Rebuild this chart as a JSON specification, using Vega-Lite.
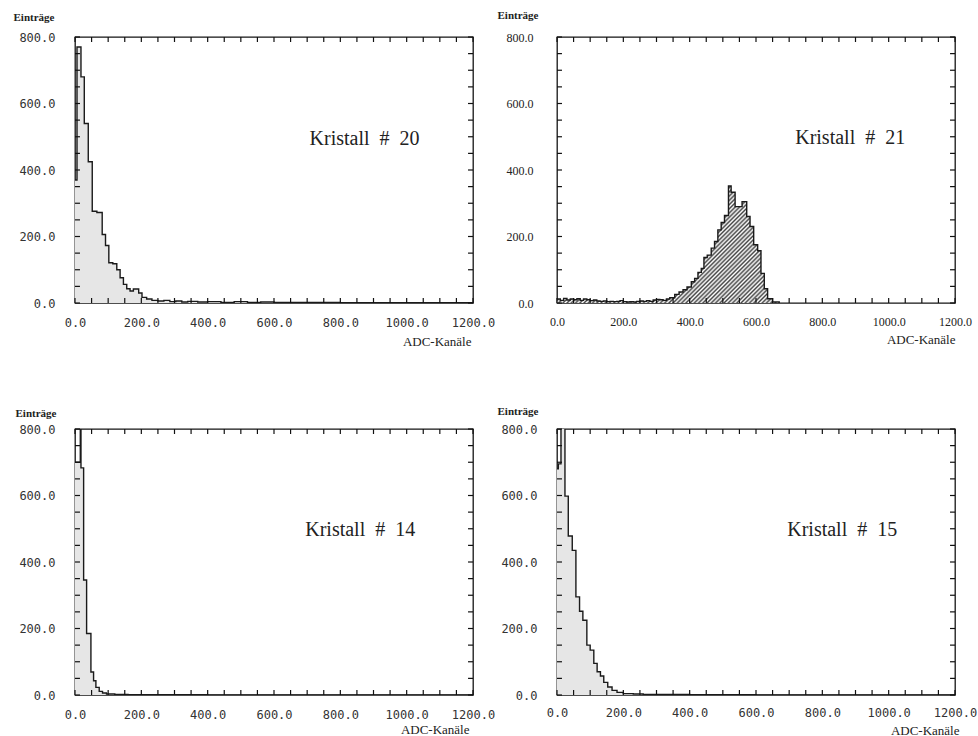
{
  "$schema": "https://vega.github.io/schema/vega-lite/v6.json",
  "autosize": {"type": "pad"},
  "padding": {"left": 12, "top": 8, "right": 0, "bottom": 0},
  "background": "white",
  "config": {
    "view": {"stroke": "#151515", "strokeWidth": 1.3},
    "axis": {"grid": false, "domain": false, "ticks": false, "labelColor": "#333", "titleColor": "#222", "labelOverlap": false, "labelFlush": false}
  },
  "datasets": {
    "tx": [{"v": 0}, {"v": 50}, {"v": 100}, {"v": 150}, {"v": 200}, {"v": 250}, {"v": 300}, {"v": 350}, {"v": 400}, {"v": 450}, {"v": 500}, {"v": 550}, {"v": 600}, {"v": 650}, {"v": 700}, {"v": 750}, {"v": 800}, {"v": 850}, {"v": 900}, {"v": 950}, {"v": 1000}, {"v": 1050}, {"v": 1100}, {"v": 1150}, {"v": 1200}],
    "ty": [{"v": 0}, {"v": 50}, {"v": 100}, {"v": 150}, {"v": 200}, {"v": 250}, {"v": 300}, {"v": 350}, {"v": 400}, {"v": 450}, {"v": 500}, {"v": 550}, {"v": 600}, {"v": 650}, {"v": 700}, {"v": 750}, {"v": 800}],
    "p20": [
      {"x": 0, "n": 370}, {"x": 6, "n": 770}, {"x": 18, "n": 680}, {"x": 28, "n": 540}, {"x": 40, "n": 425},
      {"x": 52, "n": 276}, {"x": 66, "n": 272}, {"x": 82, "n": 206}, {"x": 92, "n": 173}, {"x": 102, "n": 121},
      {"x": 114, "n": 118}, {"x": 126, "n": 100}, {"x": 136, "n": 76}, {"x": 146, "n": 56}, {"x": 156, "n": 43},
      {"x": 166, "n": 36}, {"x": 176, "n": 42}, {"x": 192, "n": 30}, {"x": 202, "n": 17}, {"x": 216, "n": 12},
      {"x": 232, "n": 8}, {"x": 250, "n": 6}, {"x": 268, "n": 8}, {"x": 286, "n": 4}, {"x": 304, "n": 6},
      {"x": 322, "n": 3}, {"x": 340, "n": 5}, {"x": 370, "n": 3}, {"x": 400, "n": 4}, {"x": 440, "n": 2},
      {"x": 480, "n": 4}, {"x": 520, "n": 2}, {"x": 560, "n": 3}, {"x": 600, "n": 2}, {"x": 700, "n": 2},
      {"x": 800, "n": 1}, {"x": 900, "n": 1}, {"x": 1000, "n": 1}, {"x": 1100, "n": 1}, {"x": 1200, "n": 0}
    ],
    "p21": [
      {"x": 0, "n": 12}, {"x": 10, "n": 8}, {"x": 20, "n": 14}, {"x": 30, "n": 9}, {"x": 40, "n": 12},
      {"x": 50, "n": 10}, {"x": 60, "n": 13}, {"x": 70, "n": 8}, {"x": 80, "n": 12}, {"x": 90, "n": 10},
      {"x": 100, "n": 7}, {"x": 110, "n": 9}, {"x": 120, "n": 6}, {"x": 130, "n": 5}, {"x": 140, "n": 6},
      {"x": 150, "n": 4}, {"x": 160, "n": 5}, {"x": 170, "n": 4}, {"x": 180, "n": 5}, {"x": 190, "n": 7},
      {"x": 200, "n": 4}, {"x": 210, "n": 3}, {"x": 220, "n": 4}, {"x": 230, "n": 3}, {"x": 240, "n": 5},
      {"x": 250, "n": 6}, {"x": 260, "n": 5}, {"x": 270, "n": 7}, {"x": 280, "n": 5}, {"x": 290, "n": 9},
      {"x": 300, "n": 11}, {"x": 310, "n": 10}, {"x": 320, "n": 8}, {"x": 330, "n": 12}, {"x": 340, "n": 16},
      {"x": 355, "n": 26}, {"x": 368, "n": 33}, {"x": 380, "n": 40}, {"x": 392, "n": 48}, {"x": 405, "n": 64},
      {"x": 415, "n": 74}, {"x": 425, "n": 92}, {"x": 435, "n": 104}, {"x": 443, "n": 137}, {"x": 453, "n": 144},
      {"x": 465, "n": 165}, {"x": 475, "n": 185}, {"x": 485, "n": 220}, {"x": 495, "n": 242}, {"x": 505, "n": 263},
      {"x": 517, "n": 352}, {"x": 525, "n": 333}, {"x": 537, "n": 290}, {"x": 558, "n": 305}, {"x": 572, "n": 260},
      {"x": 582, "n": 230}, {"x": 593, "n": 175}, {"x": 605, "n": 157}, {"x": 615, "n": 89}, {"x": 625, "n": 43},
      {"x": 635, "n": 13}, {"x": 650, "n": 3}, {"x": 670, "n": 0}
    ],
    "p14": [
      {"x": 0, "n": 700}, {"x": 16, "n": 1000}, {"x": 18, "n": 683}, {"x": 26, "n": 346}, {"x": 35, "n": 185},
      {"x": 48, "n": 69}, {"x": 56, "n": 43}, {"x": 63, "n": 23}, {"x": 73, "n": 11}, {"x": 83, "n": 6},
      {"x": 95, "n": 3}, {"x": 120, "n": 2}, {"x": 160, "n": 1}, {"x": 250, "n": 1}, {"x": 400, "n": 0},
      {"x": 1200, "n": 0}
    ],
    "p15": [
      {"x": 0, "n": 680}, {"x": 4, "n": 695}, {"x": 12, "n": 1000}, {"x": 24, "n": 598}, {"x": 34, "n": 478},
      {"x": 46, "n": 435}, {"x": 57, "n": 295}, {"x": 68, "n": 252}, {"x": 78, "n": 225}, {"x": 90, "n": 150},
      {"x": 100, "n": 135}, {"x": 111, "n": 95}, {"x": 121, "n": 70}, {"x": 131, "n": 57}, {"x": 141, "n": 38},
      {"x": 153, "n": 24}, {"x": 166, "n": 14}, {"x": 181, "n": 8}, {"x": 200, "n": 4}, {"x": 230, "n": 3},
      {"x": 260, "n": 2}, {"x": 300, "n": 2}, {"x": 400, "n": 1}, {"x": 500, "n": 1}, {"x": 600, "n": 0},
      {"x": 1200, "n": 0}
    ]
  },
  "columns": 2,
  "spacing": {"column": 84, "row": 126},
  "bounds": "flush",
  "concat": [
    {
      "width": 398, "height": 266,
      "data": {"name": "p20"},
      "layer": [
        {
          "mark": {"type": "area", "interpolate": "step-after", "fill": "#e6e6e6", "clip": true},
          "encoding": {
            "x": {"field": "x", "type": "quantitative", "scale": {"domain": [0, 1200], "nice": false, "zero": false},
              "axis": {"orient": "bottom", "values": [0,200,400,600,800,1000,1200], "format": ".1f",
                "labelFont": "DejaVu Sans Mono", "labelFontSize": 12, "labelPadding": 14,
                "title": "ADC-Kanäle", "titleFont": "Liberation Serif", "titleFontSize": 13, "titleFontWeight": "normal",
                "titleAnchor": "end", "titleAlign": "right", "titleBaseline": "middle", "titleX": 396, "titleY": 38}},
            "y": {"field": "n", "type": "quantitative", "scale": {"domain": [0, 800], "nice": false},
              "axis": {"orient": "left", "values": [0,200,400,600,800], "format": ".1f",
                "labelFont": "DejaVu Sans Mono", "labelFontSize": 12, "labelPadding": 20,
                "title": "Einträge", "titleFont": "Liberation Serif", "titleFontSize": 11, "titleFontWeight": "bold",
                "titleAngle": 0, "titleAlign": "left", "titleBaseline": "middle", "titleX": -62, "titleY": -20}}
          }
        },
        {
          "mark": {"type": "line", "interpolate": "step-after", "stroke": "#1a1a1a", "strokeWidth": 1.4, "clip": true},
          "encoding": {"x": {"field": "x", "type": "quantitative"}, "y": {"field": "n", "type": "quantitative"}}
        },
        {"data": {"name": "tx"}, "mark": {"type": "rule", "stroke": "#111", "strokeWidth": 1.2},
          "encoding": {"x": {"field": "v", "type": "quantitative"}, "y": {"datum": 0, "type": "quantitative"}, "y2": {"datum": 15}}},
        {"data": {"name": "tx"}, "mark": {"type": "rule", "stroke": "#111", "strokeWidth": 1.2},
          "encoding": {"x": {"field": "v", "type": "quantitative"}, "y": {"datum": 800, "type": "quantitative"}, "y2": {"datum": 785}}},
        {"data": {"name": "ty"}, "mark": {"type": "rule", "stroke": "#111", "strokeWidth": 1.2},
          "encoding": {"y": {"field": "v", "type": "quantitative"}, "x": {"datum": 0, "type": "quantitative"}, "x2": {"datum": 15}}},
        {"data": {"name": "ty"}, "mark": {"type": "rule", "stroke": "#111", "strokeWidth": 1.2},
          "encoding": {"y": {"field": "v", "type": "quantitative"}, "x": {"datum": 1200, "type": "quantitative"}, "x2": {"datum": 1185}}},
        {
          "data": {"values": [{}]},
          "mark": {"type": "text", "text": "Kristall\u00a0\u00a0#\u00a0\u00a020", "font": "Liberation Serif", "fontSize": 20, "fill": "#222", "align": "center", "baseline": "middle"},
          "encoding": {"x": {"datum": 873, "type": "quantitative"}, "y": {"datum": 492, "type": "quantitative"}}
        }
      ]
    },
    {
      "width": 398, "height": 266,
      "data": {"name": "p21"},
      "layer": [
        {
          "mark": {"type": "area", "interpolate": "step-after", "clip": true,
            "fill": {"gradient": "linear", "x1": 0, "y1": 0, "x2": 1.195, "y2": 0.63, "stops": [
              {"offset": 0, "color": "#444"}, {"offset": 0.00625, "color": "#fff"}, {"offset": 0.0125, "color": "#444"}, {"offset": 0.01875, "color": "#fff"},
              {"offset": 0.025, "color": "#444"}, {"offset": 0.03125, "color": "#fff"}, {"offset": 0.0375, "color": "#444"}, {"offset": 0.04375, "color": "#fff"},
              {"offset": 0.05, "color": "#444"}, {"offset": 0.05625, "color": "#fff"}, {"offset": 0.0625, "color": "#444"}, {"offset": 0.06875, "color": "#fff"},
              {"offset": 0.075, "color": "#444"}, {"offset": 0.08125, "color": "#fff"}, {"offset": 0.0875, "color": "#444"}, {"offset": 0.09375, "color": "#fff"},
              {"offset": 0.1, "color": "#444"}, {"offset": 0.10625, "color": "#fff"}, {"offset": 0.1125, "color": "#444"}, {"offset": 0.11875, "color": "#fff"},
              {"offset": 0.125, "color": "#444"}, {"offset": 0.13125, "color": "#fff"}, {"offset": 0.1375, "color": "#444"}, {"offset": 0.14375, "color": "#fff"},
              {"offset": 0.15, "color": "#444"}, {"offset": 0.15625, "color": "#fff"}, {"offset": 0.1625, "color": "#444"}, {"offset": 0.16875, "color": "#fff"},
              {"offset": 0.175, "color": "#444"}, {"offset": 0.18125, "color": "#fff"}, {"offset": 0.1875, "color": "#444"}, {"offset": 0.19375, "color": "#fff"},
              {"offset": 0.2, "color": "#444"}, {"offset": 0.20625, "color": "#fff"}, {"offset": 0.2125, "color": "#444"}, {"offset": 0.21875, "color": "#fff"},
              {"offset": 0.225, "color": "#444"}, {"offset": 0.23125, "color": "#fff"}, {"offset": 0.2375, "color": "#444"}, {"offset": 0.24375, "color": "#fff"},
              {"offset": 0.25, "color": "#444"}, {"offset": 0.25625, "color": "#fff"}, {"offset": 0.2625, "color": "#444"}, {"offset": 0.26875, "color": "#fff"},
              {"offset": 0.275, "color": "#444"}, {"offset": 0.28125, "color": "#fff"}, {"offset": 0.2875, "color": "#444"}, {"offset": 0.29375, "color": "#fff"},
              {"offset": 0.3, "color": "#444"}, {"offset": 0.30625, "color": "#fff"}, {"offset": 0.3125, "color": "#444"}, {"offset": 0.31875, "color": "#fff"},
              {"offset": 0.325, "color": "#444"}, {"offset": 0.33125, "color": "#fff"}, {"offset": 0.3375, "color": "#444"}, {"offset": 0.34375, "color": "#fff"},
              {"offset": 0.35, "color": "#444"}, {"offset": 0.35625, "color": "#fff"}, {"offset": 0.3625, "color": "#444"}, {"offset": 0.36875, "color": "#fff"},
              {"offset": 0.375, "color": "#444"}, {"offset": 0.38125, "color": "#fff"}, {"offset": 0.3875, "color": "#444"}, {"offset": 0.39375, "color": "#fff"},
              {"offset": 0.4, "color": "#444"}, {"offset": 0.40625, "color": "#fff"}, {"offset": 0.4125, "color": "#444"}, {"offset": 0.41875, "color": "#fff"},
              {"offset": 0.425, "color": "#444"}, {"offset": 0.43125, "color": "#fff"}, {"offset": 0.4375, "color": "#444"}, {"offset": 0.44375, "color": "#fff"},
              {"offset": 0.45, "color": "#444"}, {"offset": 0.45625, "color": "#fff"}, {"offset": 0.4625, "color": "#444"}, {"offset": 0.46875, "color": "#fff"},
              {"offset": 0.475, "color": "#444"}, {"offset": 0.48125, "color": "#fff"}, {"offset": 0.4875, "color": "#444"}, {"offset": 0.49375, "color": "#fff"},
              {"offset": 0.5, "color": "#444"}, {"offset": 0.50625, "color": "#fff"}, {"offset": 0.5125, "color": "#444"}, {"offset": 0.51875, "color": "#fff"},
              {"offset": 0.525, "color": "#444"}, {"offset": 0.53125, "color": "#fff"}, {"offset": 0.5375, "color": "#444"}, {"offset": 0.54375, "color": "#fff"},
              {"offset": 0.55, "color": "#444"}, {"offset": 0.55625, "color": "#fff"}, {"offset": 0.5625, "color": "#444"}, {"offset": 0.56875, "color": "#fff"},
              {"offset": 0.575, "color": "#444"}, {"offset": 0.58125, "color": "#fff"}, {"offset": 0.5875, "color": "#444"}, {"offset": 0.59375, "color": "#fff"},
              {"offset": 0.6, "color": "#444"}, {"offset": 0.60625, "color": "#fff"}, {"offset": 0.6125, "color": "#444"}, {"offset": 0.61875, "color": "#fff"},
              {"offset": 0.625, "color": "#444"}, {"offset": 0.63125, "color": "#fff"}, {"offset": 0.6375, "color": "#444"}, {"offset": 0.64375, "color": "#fff"},
              {"offset": 0.65, "color": "#444"}, {"offset": 0.65625, "color": "#fff"}, {"offset": 0.6625, "color": "#444"}, {"offset": 0.66875, "color": "#fff"},
              {"offset": 0.675, "color": "#444"}, {"offset": 0.68125, "color": "#fff"}, {"offset": 0.6875, "color": "#444"}, {"offset": 0.69375, "color": "#fff"},
              {"offset": 0.7, "color": "#444"}, {"offset": 0.70625, "color": "#fff"}, {"offset": 0.7125, "color": "#444"}, {"offset": 0.71875, "color": "#fff"},
              {"offset": 0.725, "color": "#444"}, {"offset": 0.73125, "color": "#fff"}, {"offset": 0.7375, "color": "#444"}, {"offset": 0.74375, "color": "#fff"},
              {"offset": 0.75, "color": "#444"}, {"offset": 0.75625, "color": "#fff"}, {"offset": 0.7625, "color": "#444"}, {"offset": 0.76875, "color": "#fff"},
              {"offset": 0.775, "color": "#444"}, {"offset": 0.78125, "color": "#fff"}, {"offset": 0.7875, "color": "#444"}, {"offset": 0.79375, "color": "#fff"},
              {"offset": 0.8, "color": "#444"}, {"offset": 0.80625, "color": "#fff"}, {"offset": 0.8125, "color": "#444"}, {"offset": 0.81875, "color": "#fff"},
              {"offset": 0.825, "color": "#444"}, {"offset": 0.83125, "color": "#fff"}, {"offset": 0.8375, "color": "#444"}, {"offset": 0.84375, "color": "#fff"},
              {"offset": 0.85, "color": "#444"}, {"offset": 0.85625, "color": "#fff"}, {"offset": 0.8625, "color": "#444"}, {"offset": 0.86875, "color": "#fff"},
              {"offset": 0.875, "color": "#444"}, {"offset": 0.88125, "color": "#fff"}, {"offset": 0.8875, "color": "#444"}, {"offset": 0.89375, "color": "#fff"},
              {"offset": 0.9, "color": "#444"}, {"offset": 0.90625, "color": "#fff"}, {"offset": 0.9125, "color": "#444"}, {"offset": 0.91875, "color": "#fff"},
              {"offset": 0.925, "color": "#444"}, {"offset": 0.93125, "color": "#fff"}, {"offset": 0.9375, "color": "#444"}, {"offset": 0.94375, "color": "#fff"},
              {"offset": 0.95, "color": "#444"}, {"offset": 0.95625, "color": "#fff"}, {"offset": 0.9625, "color": "#444"}, {"offset": 0.96875, "color": "#fff"},
              {"offset": 0.975, "color": "#444"}, {"offset": 0.98125, "color": "#fff"}, {"offset": 0.9875, "color": "#444"}, {"offset": 0.99375, "color": "#fff"},
              {"offset": 1, "color": "#444"}
            ]}},
          "encoding": {
            "x": {"field": "x", "type": "quantitative", "scale": {"domain": [0, 1200], "nice": false, "zero": false},
              "axis": {"orient": "bottom", "values": [0,200,400,600,800,1000,1200], "format": ".1f",
                "labelFont": "Liberation Serif", "labelFontSize": 12, "labelColor": "#222", "labelPadding": 13,
                "title": "ADC-Kanäle", "titleFont": "Liberation Serif", "titleFontSize": 13, "titleFontWeight": "normal",
                "titleAnchor": "end", "titleAlign": "right", "titleBaseline": "middle", "titleX": 398, "titleY": 36}},
            "y": {"field": "n", "type": "quantitative", "scale": {"domain": [0, 800], "nice": false},
              "axis": {"orient": "left", "values": [0,200,400,600,800], "format": ".1f",
                "labelFont": "Liberation Serif", "labelFontSize": 12, "labelColor": "#222", "labelPadding": 24,
                "title": "Einträge", "titleFont": "Liberation Serif", "titleFontSize": 11, "titleFontWeight": "bold",
                "titleAngle": 0, "titleAlign": "left", "titleBaseline": "middle", "titleX": -60, "titleY": -22}}
          }
        },
        {
          "mark": {"type": "line", "interpolate": "step-after", "stroke": "#1a1a1a", "strokeWidth": 1.4, "clip": true},
          "encoding": {"x": {"field": "x", "type": "quantitative"}, "y": {"field": "n", "type": "quantitative"}}
        },
        {"data": {"name": "tx"}, "mark": {"type": "rule", "stroke": "#111", "strokeWidth": 1.2},
          "encoding": {"x": {"field": "v", "type": "quantitative"}, "y": {"datum": 0, "type": "quantitative"}, "y2": {"datum": 15}}},
        {"data": {"name": "tx"}, "mark": {"type": "rule", "stroke": "#111", "strokeWidth": 1.2},
          "encoding": {"x": {"field": "v", "type": "quantitative"}, "y": {"datum": 800, "type": "quantitative"}, "y2": {"datum": 785}}},
        {"data": {"name": "ty"}, "mark": {"type": "rule", "stroke": "#111", "strokeWidth": 1.2},
          "encoding": {"y": {"field": "v", "type": "quantitative"}, "x": {"datum": 0, "type": "quantitative"}, "x2": {"datum": 15}}},
        {"data": {"name": "ty"}, "mark": {"type": "rule", "stroke": "#111", "strokeWidth": 1.2},
          "encoding": {"y": {"field": "v", "type": "quantitative"}, "x": {"datum": 1200, "type": "quantitative"}, "x2": {"datum": 1185}}},
        {
          "data": {"values": [{}]},
          "mark": {"type": "text", "text": "Kristall\u00a0\u00a0#\u00a0\u00a021", "font": "Liberation Serif", "fontSize": 20, "fill": "#222", "align": "center", "baseline": "middle"},
          "encoding": {"x": {"datum": 884, "type": "quantitative"}, "y": {"datum": 495, "type": "quantitative"}}
        }
      ]
    },
    {
      "width": 398, "height": 266,
      "data": {"name": "p14"},
      "layer": [
        {
          "mark": {"type": "area", "interpolate": "step-after", "fill": "#e6e6e6", "clip": true},
          "encoding": {
            "x": {"field": "x", "type": "quantitative", "scale": {"domain": [0, 1200], "nice": false, "zero": false},
              "axis": {"orient": "bottom", "values": [0,200,400,600,800,1000,1200], "format": ".1f",
                "labelFont": "DejaVu Sans Mono", "labelFontSize": 12, "labelPadding": 14,
                "title": "ADC-Kanäle", "titleFont": "Liberation Serif", "titleFontSize": 13, "titleFontWeight": "normal",
                "titleAnchor": "end", "titleAlign": "right", "titleBaseline": "middle", "titleX": 394, "titleY": 34}},
            "y": {"field": "n", "type": "quantitative", "scale": {"domain": [0, 800], "nice": false},
              "axis": {"orient": "left", "values": [0,200,400,600,800], "format": ".1f",
                "labelFont": "DejaVu Sans Mono", "labelFontSize": 12, "labelPadding": 20,
                "title": "Einträge", "titleFont": "Liberation Serif", "titleFontSize": 11, "titleFontWeight": "bold",
                "titleAngle": 0, "titleAlign": "left", "titleBaseline": "middle", "titleX": -60, "titleY": -16}}
          }
        },
        {
          "mark": {"type": "line", "interpolate": "step-after", "stroke": "#1a1a1a", "strokeWidth": 1.4, "clip": true},
          "encoding": {"x": {"field": "x", "type": "quantitative"}, "y": {"field": "n", "type": "quantitative"}}
        },
        {"data": {"name": "tx"}, "mark": {"type": "rule", "stroke": "#111", "strokeWidth": 1.2},
          "encoding": {"x": {"field": "v", "type": "quantitative"}, "y": {"datum": 0, "type": "quantitative"}, "y2": {"datum": 15}}},
        {"data": {"name": "tx"}, "mark": {"type": "rule", "stroke": "#111", "strokeWidth": 1.2},
          "encoding": {"x": {"field": "v", "type": "quantitative"}, "y": {"datum": 800, "type": "quantitative"}, "y2": {"datum": 785}}},
        {"data": {"name": "ty"}, "mark": {"type": "rule", "stroke": "#111", "strokeWidth": 1.2},
          "encoding": {"y": {"field": "v", "type": "quantitative"}, "x": {"datum": 0, "type": "quantitative"}, "x2": {"datum": 15}}},
        {"data": {"name": "ty"}, "mark": {"type": "rule", "stroke": "#111", "strokeWidth": 1.2},
          "encoding": {"y": {"field": "v", "type": "quantitative"}, "x": {"datum": 1200, "type": "quantitative"}, "x2": {"datum": 1185}}},
        {
          "data": {"values": [{}]},
          "mark": {"type": "text", "text": "Kristall\u00a0\u00a0#\u00a0\u00a014", "font": "Liberation Serif", "fontSize": 20, "fill": "#222", "align": "center", "baseline": "middle"},
          "encoding": {"x": {"datum": 860, "type": "quantitative"}, "y": {"datum": 497, "type": "quantitative"}}
        }
      ]
    },
    {
      "width": 398, "height": 266,
      "data": {"name": "p15"},
      "layer": [
        {
          "mark": {"type": "area", "interpolate": "step-after", "fill": "#e6e6e6", "clip": true},
          "encoding": {
            "x": {"field": "x", "type": "quantitative", "scale": {"domain": [0, 1200], "nice": false, "zero": false},
              "axis": {"orient": "bottom", "values": [0,200,400,600,800,1000,1200], "format": ".1f",
                "labelFont": "DejaVu Sans Mono", "labelFontSize": 12, "labelPadding": 12,
                "title": "ADC-Kanäle", "titleFont": "Liberation Serif", "titleFontSize": 13, "titleFontWeight": "normal",
                "titleAnchor": "end", "titleAlign": "right", "titleBaseline": "middle", "titleX": 402, "titleY": 35}},
            "y": {"field": "n", "type": "quantitative", "scale": {"domain": [0, 800], "nice": false},
              "axis": {"orient": "left", "values": [0,200,400,600,800], "format": ".1f",
                "labelFont": "DejaVu Sans Mono", "labelFontSize": 12, "labelPadding": 20,
                "title": "Einträge", "titleFont": "Liberation Serif", "titleFontSize": 11, "titleFontWeight": "bold",
                "titleAngle": 0, "titleAlign": "left", "titleBaseline": "middle", "titleX": -60, "titleY": -18}}
          }
        },
        {
          "mark": {"type": "line", "interpolate": "step-after", "stroke": "#1a1a1a", "strokeWidth": 1.4, "clip": true},
          "encoding": {"x": {"field": "x", "type": "quantitative"}, "y": {"field": "n", "type": "quantitative"}}
        },
        {"data": {"name": "tx"}, "mark": {"type": "rule", "stroke": "#111", "strokeWidth": 1.2},
          "encoding": {"x": {"field": "v", "type": "quantitative"}, "y": {"datum": 0, "type": "quantitative"}, "y2": {"datum": 15}}},
        {"data": {"name": "tx"}, "mark": {"type": "rule", "stroke": "#111", "strokeWidth": 1.2},
          "encoding": {"x": {"field": "v", "type": "quantitative"}, "y": {"datum": 800, "type": "quantitative"}, "y2": {"datum": 785}}},
        {"data": {"name": "ty"}, "mark": {"type": "rule", "stroke": "#111", "strokeWidth": 1.2},
          "encoding": {"y": {"field": "v", "type": "quantitative"}, "x": {"datum": 0, "type": "quantitative"}, "x2": {"datum": 15}}},
        {"data": {"name": "ty"}, "mark": {"type": "rule", "stroke": "#111", "strokeWidth": 1.2},
          "encoding": {"y": {"field": "v", "type": "quantitative"}, "x": {"datum": 1200, "type": "quantitative"}, "x2": {"datum": 1185}}},
        {
          "data": {"values": [{}]},
          "mark": {"type": "text", "text": "Kristall\u00a0\u00a0#\u00a0\u00a015", "font": "Liberation Serif", "fontSize": 20, "fill": "#222", "align": "center", "baseline": "middle"},
          "encoding": {"x": {"datum": 860, "type": "quantitative"}, "y": {"datum": 497, "type": "quantitative"}}
        }
      ]
    }
  ]
}
